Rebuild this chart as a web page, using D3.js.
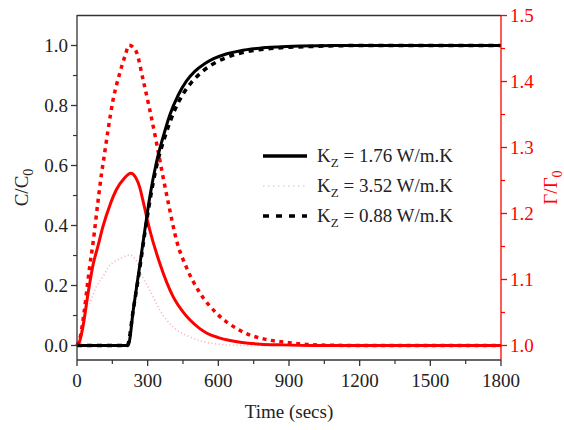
<!DOCTYPE html>
<html>
<head>
<meta charset="utf-8">
<script src="https://cdn.jsdelivr.net/npm/d3@7"></script>
<style>
    body { margin: 0; background: #fff; }
    svg text { font-family: "Liberation Serif", "Times New Roman", serif; }
</style>
</head>
<body>
<svg id="chart" width="564" height="430"></svg>
<script>
// C/C0 curves (left axis)
const timeC176 = [0, 100, 200, 217, 240, 266, 288, 309, 337, 373, 394, 430, 465, 500, 540, 580, 630, 690, 776, 850, 950, 1100, 1300, 1800];
const conc176 = [0, 0, 0, 0, 0.125, 0.265, 0.385, 0.495, 0.61, 0.715, 0.768, 0.835, 0.882, 0.914, 0.938, 0.956, 0.971, 0.982, 0.991, 0.995, 0.998, 1, 1, 1];

const timeC088 = [0, 100, 200, 213, 240, 266, 288, 309, 337, 373, 415, 450, 486, 535, 585, 635, 691, 748, 820, 900, 1000, 1200, 1800];
const conc088 = [0, 0, 0, 0, 0.125, 0.255, 0.375, 0.48, 0.595, 0.695, 0.785, 0.838, 0.877, 0.915, 0.942, 0.96, 0.974, 0.983, 0.99, 0.994, 0.997, 1, 1];

// Gamma/Gamma0 curves (right axis)
const timeG176 = [0, 10, 25, 47, 68, 90, 110, 140, 167, 200, 228, 250, 266, 281, 309, 351, 408, 450, 479, 520, 550, 600, 650, 700, 780, 861, 1000, 1800];
const gamma176 = [1.0, 1.005, 1.028, 1.079, 1.122, 1.152, 1.18, 1.213, 1.236, 1.253, 1.261, 1.254, 1.24, 1.218, 1.175, 1.125, 1.074, 1.051, 1.039, 1.026, 1.019, 1.012, 1.0075, 1.0045, 1.002, 1.001, 1.0, 1.0];

const timeG088 = [0, 15, 30, 47, 54, 68, 89, 104, 115, 132, 153, 181, 205, 221, 235, 252, 281, 309, 337, 365, 394, 422, 465, 521, 592, 691, 819, 883, 1003, 1200, 1800];
const gamma088 = [1.0, 1.015, 1.05, 1.1, 1.12, 1.155, 1.218, 1.26, 1.286, 1.327, 1.372, 1.412, 1.44, 1.455, 1.453, 1.445, 1.402, 1.357, 1.308, 1.256, 1.205, 1.16, 1.118, 1.08, 1.049, 1.023, 1.008, 1.005, 1.001, 1.0, 1.0];

const timeG352 = [0, 15, 40, 54, 82, 110, 139, 160, 190, 224, 250, 266, 309, 351, 408, 479, 578, 700, 1800];
const gamma352 = [1.0, 1.02, 1.054, 1.064, 1.089, 1.104, 1.122, 1.127, 1.133, 1.137, 1.13, 1.114, 1.084, 1.054, 1.028, 1.013, 1.003, 1.0, 1.0];

// axes
const xTicks = [0, 300, 600, 900, 1200, 1500, 1800];
const yLeftTicks = [0.0, 0.2, 0.4, 0.6, 0.8, 1.0];
const yRightTicks = [1.0, 1.1, 1.2, 1.3, 1.4, 1.5];

const legendLabels = ["1.76", "3.52", "0.88"];

const svg = d3.select("#chart");
const margin = {left: 77, right: 63, top: 15, bottom: 70};
const width = 564, height = 430;
const x0 = margin.left, x1 = width - margin.right;
const y0 = margin.top, y1 = height - margin.bottom;

const x = d3.scaleLinear().domain([0, 1800]).range([x0, x1]);
const yL = d3.scaleLinear().domain([-0.0483, 1.1017]).range([y1, y0]);
const yR = d3.scaleLinear().domain([0.978, 1.5008]).range([y1, y0]);

const red = "#ff0000";

function zip(ts, vs) {
    return ts.map((t, i) => ({t: t, v: vs[i]}));
}

const lineL = d3.line().x(d => x(d.t)).y(d => yL(d.v)).curve(d3.curveMonotoneX);
const lineR = d3.line().x(d => x(d.t)).y(d => yR(d.v)).curve(d3.curveMonotoneX);

const plot = svg.append("g");

// Gamma curves
plot.append("path").datum(zip(timeG352, gamma352))
    .attr("d", lineR).attr("fill", "none")
    .attr("stroke", "#ffb6c6").attr("stroke-width", 1.6)
    .attr("stroke-dasharray", "1.2,2.4");

plot.append("path").datum(zip(timeG088, gamma088))
    .attr("d", lineR).attr("fill", "none")
    .attr("stroke", red).attr("stroke-width", 3.5)
    .attr("stroke-dasharray", "4,4.5");

plot.append("path").datum(zip(timeG176, gamma176))
    .attr("d", lineR).attr("fill", "none")
    .attr("stroke", red).attr("stroke-width", 3);

// C/C0 curves
plot.append("path").datum(zip(timeC088, conc088))
    .attr("d", lineL).attr("fill", "none")
    .attr("stroke", "#000").attr("stroke-width", 3.5)
    .attr("stroke-dasharray", "5,5");

plot.append("path").datum(zip(timeC176, conc176))
    .attr("d", lineL).attr("fill", "none")
    .attr("stroke", "#000").attr("stroke-width", 3);

// frame
svg.append("line").attr("x1", x0).attr("x2", x1).attr("y1", y0 + 0.5).attr("y2", y0 + 0.5)
    .attr("stroke", "#333").attr("stroke-width", 1.3);

// bottom axis
const xAxis = svg.append("g").attr("transform", `translate(0,${y1})`);
xAxis.append("line").attr("x1", x0).attr("x2", x1).attr("stroke", "#333").attr("stroke-width", 1.3);
xAxis.selectAll(".minor").data(d3.range(150, 1800, 300)).join("line")
    .attr("x1", d => x(d)).attr("x2", d => x(d)).attr("y1", 0).attr("y2", 4)
    .attr("stroke", "#333").attr("stroke-width", 1.2);
xAxis.selectAll(".major").data(xTicks).join("line")
    .attr("x1", d => x(d)).attr("x2", d => x(d)).attr("y1", 0).attr("y2", 6)
    .attr("stroke", "#333").attr("stroke-width", 1.3);
xAxis.selectAll("text").data(xTicks).join("text")
    .attr("x", d => x(d)).attr("y", 27).attr("text-anchor", "middle")
    .attr("font-size", 19).attr("fill", "#222").text(d => d);

svg.append("text").attr("x", (x0 + x1) / 2).attr("y", 418).attr("text-anchor", "middle")
    .attr("font-size", 19).attr("fill", "#222").text("Time (secs)");

// left axis
const yAxisL = svg.append("g").attr("transform", `translate(${x0},0)`);
yAxisL.append("line").attr("y1", y0).attr("y2", y1).attr("stroke", "#333").attr("stroke-width", 1.3);
yAxisL.selectAll(".minor").data(d3.range(0.1, 1.1, 0.2)).join("line")
    .attr("x1", 0).attr("x2", -4).attr("y1", d => yL(d)).attr("y2", d => yL(d))
    .attr("stroke", "#333").attr("stroke-width", 1.2);
yAxisL.selectAll(".major").data(yLeftTicks).join("line")
    .attr("x1", 0).attr("x2", -6).attr("y1", d => yL(d)).attr("y2", d => yL(d))
    .attr("stroke", "#333").attr("stroke-width", 1.3);
yAxisL.selectAll("text").data(yLeftTicks).join("text")
    .attr("x", -9).attr("y", d => yL(d) + 6.5).attr("text-anchor", "end")
    .attr("font-size", 19).attr("fill", "#222").text(d => d.toFixed(1));

const titleL = svg.append("text").attr("transform", `translate(28,${(y0 + y1) / 2}) rotate(-90)`)
    .attr("text-anchor", "middle").attr("font-size", 19).attr("fill", "#222");
titleL.append("tspan").text("C/C");
titleL.append("tspan").attr("font-size", 14).attr("dy", 5).text("0");

// right axis
const yAxisR = svg.append("g").attr("transform", `translate(${x1},0)`);
yAxisR.append("line").attr("y1", y0).attr("y2", y1).attr("stroke", red).attr("stroke-width", 1.3);
yAxisR.selectAll(".minor").data(d3.range(1.05, 1.5, 0.1)).join("line")
    .attr("x1", 0).attr("x2", 4).attr("y1", d => yR(d)).attr("y2", d => yR(d))
    .attr("stroke", red).attr("stroke-width", 1.2);
yAxisR.selectAll(".major").data(yRightTicks).join("line")
    .attr("x1", 0).attr("x2", 6).attr("y1", d => yR(d)).attr("y2", d => yR(d))
    .attr("stroke", red).attr("stroke-width", 1.3);
yAxisR.selectAll("text").data(yRightTicks).join("text")
    .attr("x", 9).attr("y", d => yR(d) + 6.5).attr("text-anchor", "start")
    .attr("font-size", 19).attr("fill", red).text(d => d.toFixed(1));

const titleR = svg.append("text").attr("transform", `translate(557,${(y0 + y1) / 2}) rotate(-90)`)
    .attr("text-anchor", "middle").attr("font-size", 19).attr("fill", red);
titleR.append("tspan").text("\u0393/\u0393");
titleR.append("tspan").attr("font-size", 14).attr("dy", 5).text("0");

// legend
const legendStyles = [
    {stroke: "#000", width: 3.5, dash: null},
    {stroke: "#d8d8d8", width: 1.5, dash: "1.5,3.5"},
    {stroke: "#000", width: 3.5, dash: "6,7"}
];
const legend = svg.append("g");
legendLabels.forEach((lab, i) => {
    const yy = 156 + i * 30;
    const st = legendStyles[i];
    legend.append("line").attr("x1", 263).attr("x2", 307).attr("y1", yy).attr("y2", yy)
        .attr("stroke", st.stroke).attr("stroke-width", st.width)
        .attr("stroke-dasharray", st.dash);
    const t = legend.append("text").attr("x", 317).attr("y", yy + 6)
        .attr("font-size", 19).attr("fill", "#222");
    t.append("tspan").text("K");
    t.append("tspan").attr("font-size", 13).attr("dy", 5).text("Z");
    t.append("tspan").attr("dy", -5).text(` = ${lab} W/m.K`);
});
</script>
</body>
</html>
